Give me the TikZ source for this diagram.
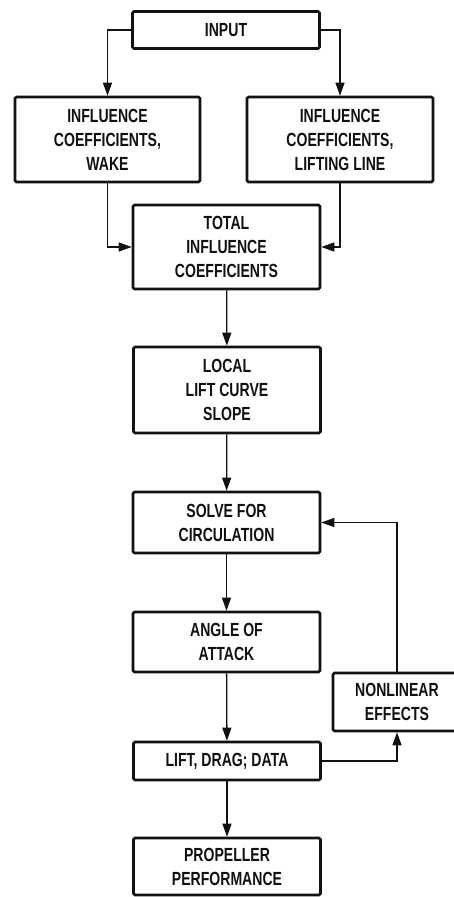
\documentclass[tikz,border=0pt]{standalone}
\usepackage{fontspec}
\usetikzlibrary{arrows.meta}
\newfontfamily\chartfont{Liberation Sans}[FakeStretch=0.74]
\definecolor{ink}{HTML}{111111}

\begin{document}
\begin{tikzpicture}[x=1pt,y=-1pt,
  blk/.style={draw=ink,line width=2.6pt,rounded corners=1.5pt,inner sep=2pt,align=center,
              font=\chartfont\bfseries\fontsize{19}{24}\selectfont,text=ink,minimum width=187pt},
  flow/.style={-{Triangle[length=13pt,width=9pt]},ink,line width=1.3pt}]
  \useasboundingbox (0,0) rectangle (453,897);
  \node[blk,minimum height=37pt] (input) at (226,30) {INPUT};
  \node[blk,minimum width=185pt,minimum height=85pt] (wake) at (107.5,139.5) {INFLUENCE\\COEFFICIENTS,\\WAKE};
  \node[blk,minimum width=186pt,minimum height=85pt] (lline) at (340,139.5) {INFLUENCE\\COEFFICIENTS,\\LIFTING LINE};
  \node[blk,minimum height=84pt] (total) at (226.5,247) {TOTAL\\INFLUENCE\\COEFFICIENTS};
  \node[blk,minimum height=86pt] (lcs) at (227,390) {LOCAL\\LIFT CURVE\\SLOPE};
  \node[blk,minimum height=61pt] (solve) at (226.5,522.5) {SOLVE FOR\\CIRCULATION};
  \node[blk,minimum height=60pt] (angle) at (226.5,642) {ANGLE OF\\ATTACK};
  \node[blk,minimum height=38pt] (lift) at (227,761) {LIFT, DRAG; DATA};
  \node[blk,minimum height=57pt] (perf) at (227,866.5) {PROPELLER\\PERFORMANCE};
  \node[blk,minimum width=128pt,minimum height=58pt] (nonlin) at (397,702) {NONLINEAR\\EFFECTS};
  % input splits to both coefficient sets
  \draw[flow] (input.west) -| (wake.north);
  \draw[flow] (input.east) -| (lline.north);
  \draw[flow] (wake.south) |- (total.west);
  \draw[flow] (lline.south) |- (total.east);
  % main chain
  \draw[flow] (total) -- (lcs);
  \draw[flow] (lcs) -- (solve);
  \draw[flow] (solve) -- (angle);
  \draw[flow] (angle) -- (lift);
  \draw[flow] (lift) -- (perf);
  % iteration loop
  \draw[flow] (lift.east) -| (nonlin.south);
  \draw[flow] (nonlin.north) |- (solve.east);
\end{tikzpicture}
\end{document}
